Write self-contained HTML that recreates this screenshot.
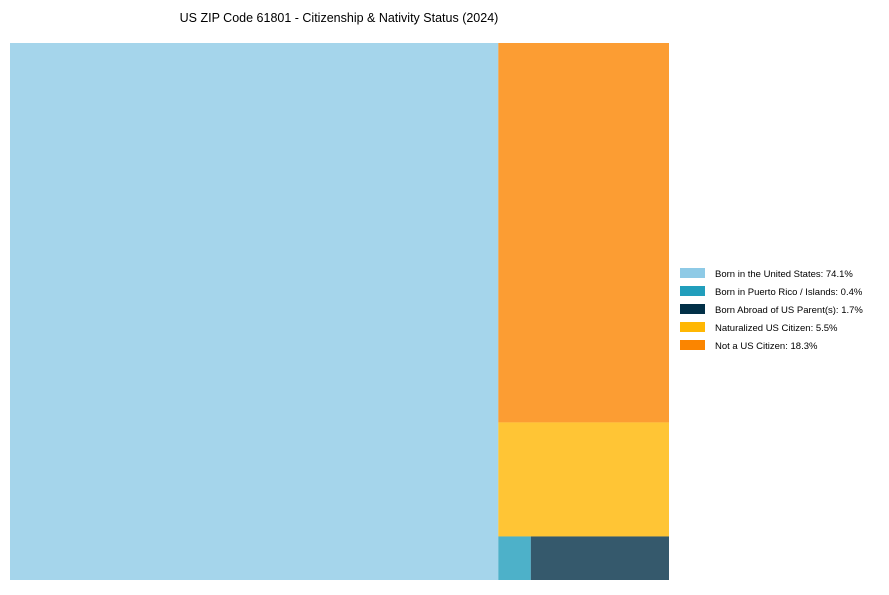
<!DOCTYPE html>
<html><head><meta charset="utf-8"><style>
body{margin:0;background:#fff;font-family:"Liberation Sans",Arial,sans-serif}
</style></head><body>
<svg id="chart" width="889" height="590">
<text x="339" y="22" text-anchor="middle" font-size="12.5" fill="#000">US ZIP Code 61801 - Citizenship &amp; Nativity Status (2024)</text>
<g id="tiles"></g>
<g id="legend"></g>
</svg>
<script>
const categories=["Born in the United States","Born in Puerto Rico / Islands","Born Abroad of US Parent(s)","Naturalized US Citizen","Not a US Citizen"];
const values=[74.1,0.4,1.7,5.5,18.3];
const colors=["#8ecae6","#219ebc","#023047","#ffb703","#fb8500"];
const NS="http://www.w3.org/2000/svg";
const box={x:10,y:43,w:659,h:537};
const total=values.reduce((a,b)=>a+b,0);
const order=values.map((v,i)=>i).sort((a,b)=>values[b]-values[a]);
const rects=[];
// first (largest) takes left strip
const first=order[0];
const w0=values[first]/total*box.w;
rects.push({i:first,x:box.x,y:box.y,w:w0,h:box.h});
// remaining column
const colX=box.x+w0, colW=box.w-w0;
const rest=order.slice(1);
const restSum=rest.reduce((a,i)=>a+values[i],0);
let y=box.y;
const stacked=rest.slice(0,rest.length-2);
const tail=rest.slice(rest.length-2).sort((a,b)=>a-b);
stacked.forEach(i=>{const h=values[i]/restSum*box.h;rects.push({i:i,x:colX,y:y,w:colW,h:h});y+=h;});
const tailSum=tail.reduce((a,i)=>a+values[i],0);
const tailH=box.y+box.h-y;
let x=colX;
tail.forEach(i=>{const w=values[i]/tailSum*colW;rects.push({i:i,x:x,y:y,w:w,h:tailH});x+=w;});
const tiles=document.getElementById('tiles');
rects.forEach(r=>{
  const el=document.createElementNS(NS,'rect');
  el.setAttribute('x',r.x);el.setAttribute('y',r.y);el.setAttribute('width',r.w);el.setAttribute('height',r.h);
  el.setAttribute('fill',colors[r.i]);el.setAttribute('fill-opacity','0.8');
  
  
  tiles.appendChild(el);
});
const lg=document.getElementById('legend');
categories.forEach((c,i)=>{
  const yy=268+i*18;
  const sw=document.createElementNS(NS,'rect');
  sw.setAttribute('x',680);sw.setAttribute('y',yy);sw.setAttribute('width',25);sw.setAttribute('height',10);sw.setAttribute('fill',colors[i]);
  
  
  lg.appendChild(sw);
  const t=document.createElementNS(NS,'text');
  t.setAttribute('x',715);t.setAttribute('y',yy+9);t.setAttribute('font-size','9.5');t.setAttribute('fill','#000');
  t.textContent=c+': '+values[i].toFixed(1)+'%';
  
  
  lg.appendChild(t);
});
</script>
</body></html>
